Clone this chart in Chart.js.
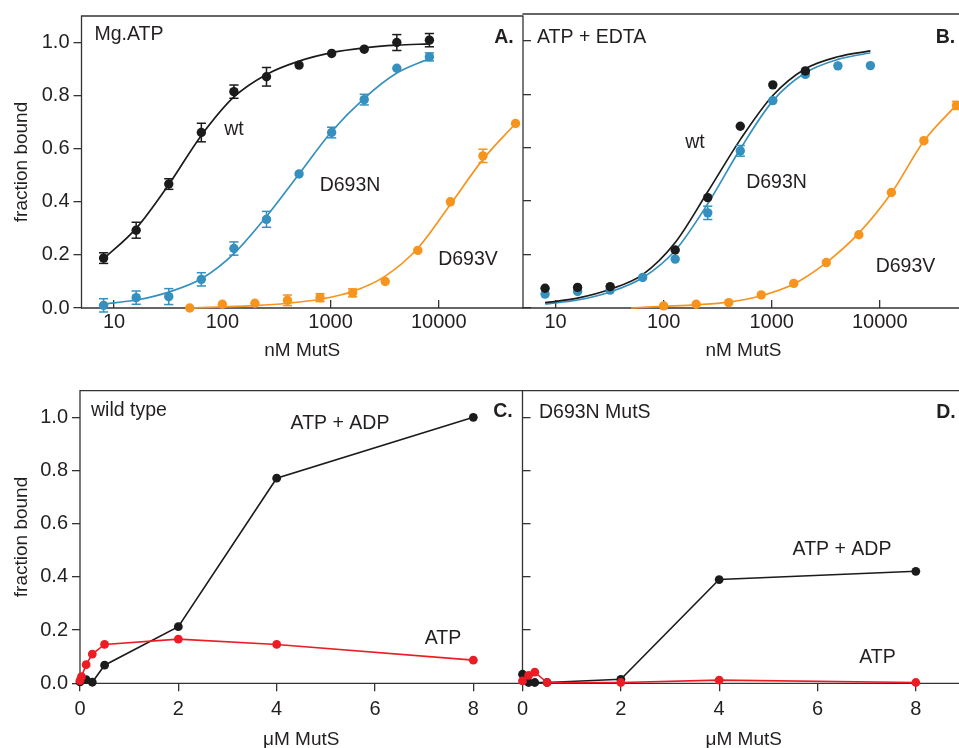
<!DOCTYPE html>
<html><head><meta charset="utf-8">
<script src="https://cdn.jsdelivr.net/npm/chart.js@4.4.1/dist/chart.umd.min.js"></script>
<style>
html,body{margin:0;padding:0;width:959px;height:748px;overflow:hidden;background:#fff;}
canvas{position:absolute;}
</style></head><body>
<canvas id="cA" width="540" height="365" style="left:0;top:0"></canvas>
<canvas id="cB" width="530" height="365" style="left:440px;top:0"></canvas>
<canvas id="cC" width="540" height="390" style="left:0;top:370px"></canvas>
<canvas id="cD" width="530" height="390" style="left:440px;top:370px"></canvas>
<script>
// ---------- tick labels ----------
const logTicks = [10, 100, 1000, 10000];
const fracTicks = [0, 0.2, 0.4, 0.6, 0.8, 1.0];
const umTicks = [0, 2, 4, 6, 8];

// ---------- Panel A: Mg.ATP (nM MutS) ----------
const aX = [8, 16, 32, 64, 128, 256, 512, 1024, 2048, 4096, 8192];
const aWt = [0.188, 0.293, 0.467, 0.661, 0.815, 0.871, 0.915, 0.959, 0.975, 1.0, 1.009];
const aWtErr = [0.02, 0.03, 0.02, 0.035, 0.025, 0.035, 0, 0, 0, 0.03, 0.025];
const aWtFit = [0.185, 0.30, 0.465, 0.65, 0.795, 0.88, 0.93, 0.962, 0.98, 0.99, 0.995];
const aN = [0.01, 0.039, 0.043, 0.108, 0.224, 0.334, 0.505, 0.661, 0.785, 0.903, 0.946];
const aNErr = [0.025, 0.025, 0.03, 0.025, 0.025, 0.03, 0, 0.02, 0.02, 0, 0.015];
const aNFit = [0.015, 0.03, 0.06, 0.11, 0.205, 0.345, 0.505, 0.665, 0.79, 0.885, 0.94];
const aVX = [50, 100, 200, 400, 800, 1600, 3200, 6400, 12800, 25600, 51200];
const aV = [0.0, 0.014, 0.018, 0.029, 0.039, 0.057, 0.10, 0.217, 0.40, 0.573, 0.695];
const aVErr = [0, 0, 0, 0.02, 0.015, 0.015, 0, 0, 0, 0.025, 0];
const aVFit = [0.0, 0.004, 0.009, 0.018, 0.033, 0.062, 0.12, 0.225, 0.39, 0.56, 0.695];

// ---------- Panel B: ATP + EDTA ----------
const bX = [8, 16, 32, 64, 128, 256, 512, 1024, 2048, 4096, 8192];
const bWtX = [8, 16, 32, 128, 256, 512, 1024, 2048];
const bWt = [0.074, 0.077, 0.08, 0.217, 0.413, 0.68, 0.835, 0.887];
const bWtFit = [0.02, 0.037, 0.07, 0.125, 0.245, 0.435, 0.63, 0.795, 0.895, 0.94, 0.962];
const bN = [0.052, 0.062, 0.067, 0.114, 0.183, 0.356, 0.588, 0.776, 0.874, 0.906, 0.907];
const bNErr = [0, 0, 0, 0, 0, 0.025, 0.02, 0, 0, 0, 0];
const bNFit = [0.015, 0.03, 0.06, 0.113, 0.215, 0.39, 0.595, 0.775, 0.88, 0.93, 0.955];
const bVX = [100, 200, 400, 800, 1600, 3200, 6400, 12800, 25600, 51200];
const bV = [0.008, 0.014, 0.02, 0.049, 0.092, 0.17, 0.274, 0.432, 0.626, 0.758];
const bVErr = [0, 0, 0, 0, 0, 0, 0, 0, 0, 0.015];
const bVFitX = [50, 100, 200, 400, 800, 1600, 3200, 6400, 12800, 25600, 51200];
const bVFit = [0.0, 0.006, 0.012, 0.022, 0.046, 0.09, 0.17, 0.28, 0.43, 0.625, 0.76];

// ---------- Panel C: wild type (uM MutS) ----------
const cAdpX = [0, 0.125, 0.25, 0.5, 2, 4, 8];
const cAdp = [0.005, 0.014, 0.004, 0.068, 0.213, 0.771, 1.0];
const cAtpX = [0, 0.03, 0.125, 0.25, 0.5, 2, 4, 8];
const cAtp = [0.01, 0.025, 0.07, 0.11, 0.146, 0.166, 0.146, 0.087];

// ---------- Panel D: D693N MutS ----------
const dAdpX = [0, 0.125, 0.25, 0.5, 2, 4, 8];
const dAdp = [0.034, 0.003, 0.003, 0.003, 0.015, 0.39, 0.421];
const dAtpX = [0, 0.125, 0.25, 0.5, 2, 4, 8];
const dAtp = [0.009, 0.03, 0.042, 0.003, 0.003, 0.012, 0.003];

// ---------- styles ----------
const FONT = "'Liberation Sans', Arial, Helvetica, sans-serif";
const INK = '#231f20';
const AXC = '#333333';
const BLACK = '#1b1b1b', BLUE = '#3590bf', ORANGE = '#f7941d', RED = '#ec1c24';

function pts(xs, ys) { return xs.map((x, i) => ({x: x, y: ys[i]})); }
function errPts(xs, ys, es) {
  const out = [];
  xs.forEach((x, i) => { if (es[i] > 0) { out.push({x: x, y: ys[i] - es[i]}, {x: x, y: ys[i] + es[i]}, {x: x, y: null}); } });
  return out;
}
function dots(xs, ys, color, r) {
  return {data: pts(xs, ys), showLine: false, pointRadius: r, pointBackgroundColor: color,
    pointBorderColor: color, pointBorderWidth: 0, clip: false};
}
function errs(xs, ys, es, color) {
  return {data: errPts(xs, ys, es), showLine: true, spanGaps: false, borderColor: color, borderWidth: 1.5,
    pointStyle: 'line', pointRadius: 4.6, pointBorderColor: color, pointBorderWidth: 1.5, clip: false};
}
function fit(xs, ys, color) {
  return {data: pts(xs, ys), showLine: true, borderColor: color, borderWidth: 1.7, pointRadius: 0,
    cubicInterpolationMode: 'monotone', clip: false};
}
function connected(xs, ys, color) {
  return {data: pts(xs, ys), showLine: true, borderColor: color, borderWidth: 1.6, pointRadius: 4.4,
    pointBackgroundColor: color, pointBorderColor: color, pointBorderWidth: 0, clip: false};
}

const framePlugin = {
  id: 'frame',
  beforeDatasetsDraw(chart, args, opts) {
    const {left, right, top, bottom} = chart.chartArea;
    const ctx = chart.ctx; const s = opts.sides || 'ltrb';
    ctx.save(); ctx.strokeStyle = AXC; ctx.lineWidth = 1.3; ctx.beginPath();
    if (s.includes('l')) { ctx.moveTo(left, top); ctx.lineTo(left, bottom); }
    if (s.includes('t')) { ctx.moveTo(left - 0.6, top); ctx.lineTo(right + 0.6, top); }
    if (s.includes('r')) { ctx.moveTo(right, top); ctx.lineTo(right, bottom); }
    if (s.includes('b')) { ctx.moveTo(left - 0.6, bottom); ctx.lineTo(right + 0.6, bottom); }
    ctx.stroke(); ctx.restore();
  }
};
const annotPlugin = {
  id: 'annot',
  afterDraw(chart, args, opts) {
    const ctx = chart.ctx;
    (opts.items || []).forEach(it => {
      ctx.save();
      ctx.font = (it.bold ? 'bold ' : '') + (it.size || 19.5) + 'px ' + FONT;
      ctx.fillStyle = INK; ctx.textAlign = it.align || 'center'; ctx.textBaseline = 'middle';
      ctx.fillText(it.t, it.x, it.y); ctx.restore();
    });
  }
};

function gridOpts(len) {
  return {display: true, drawOnChartArea: false, drawTicks: true, tickLength: len,
    color: AXC, tickColor: AXC, lineWidth: 1.3, tickWidth: 1.3};
}
function xLog(height, tickLen, pad, titleBottom) {
  return {type: 'logarithmic', position: 'bottom', min: 5, max: 60000,
    afterBuildTicks: s => { s.ticks = logTicks.map(v => ({value: v})); },
    ticks: {callback: v => String(v), font: {family: FONT, size: 20}, color: INK, padding: pad,
      maxRotation: 0, autoSkip: false},
    grid: gridOpts(tickLen), border: {display: false},
    title: {display: true, text: 'nM MutS', font: {family: FONT, size: 19}, color: INK,
      padding: {top: 0, bottom: titleBottom}},
    afterFit: s => { s.height = height; }};
}
function xLin(height, tickLen, pad, titleBottom) {
  return {type: 'linear', position: 'bottom', min: 0, max: 9,
    afterBuildTicks: s => { s.ticks = umTicks.map(v => ({value: v})); },
    ticks: {callback: v => String(v), font: {family: FONT, size: 20}, color: INK, padding: pad,
      maxRotation: 0, autoSkip: false},
    grid: gridOpts(tickLen), border: {display: false},
    title: {display: true, text: '\u03bcM MutS', font: {family: FONT, size: 19}, color: INK,
      padding: {top: 0, bottom: titleBottom}},
    afterFit: s => { s.height = height; }};
}
function yFrac(width, showLabels, tickLen) {
  return {type: 'linear', position: 'left', min: 0, max: 1.1,
    afterBuildTicks: s => { s.ticks = fracTicks.map(v => ({value: v})); },
    ticks: {display: showLabels, callback: v => v.toFixed(1), font: {family: FONT, size: 20}, color: INK, padding: 4},
    grid: gridOpts(tickLen), border: {display: false},
    title: {display: showLabels, text: 'fraction bound', font: {family: FONT, size: 19}, color: INK,
      padding: {top: 10.6, bottom: 0}},
    afterFit: s => { s.width = width; }};
}
function make(id, datasets, scales, padding, sides, items) {
  new Chart(document.getElementById(id), {
    type: 'scatter',
    data: {datasets: datasets},
    options: {responsive: false, animation: false, devicePixelRatio: 1,
      layout: {padding: padding},
      scales: scales,
      plugins: {legend: {display: false}, tooltip: {enabled: false}, frame: {sides: sides}, annot: {items: items}}},
    plugins: [framePlugin, annotPlugin]
  });
}

// Panel A
make('cA', [
  dots(aX, aWt, BLACK, 4.7), dots(aX, aN, BLUE, 4.7), dots(aVX, aV, ORANGE, 4.7),
  errs(aX, aWt, aWtErr, BLACK), errs(aX, aN, aNErr, BLUE), errs(aVX, aV, aVErr, ORANGE),
  fit(aX, aWtFit, BLACK), fit(aX, aNFit, BLUE), fit(aVX, aVFit, ORANGE)
], {x: xLog(57, -8, 10.6, 2.6), y: yFrac(81.5, true, 8)},
  {left: 0, top: 14, right: 17, bottom: 0}, 'ltrb', [
  {t: 'Mg.ATP', x: 94.5, y: 35, align: 'left'},
  {t: 'A.', x: 504, y: 38, bold: true},
  {t: 'wt', x: 234, y: 130},
  {t: 'D693N', x: 350, y: 186},
  {t: 'D693V', x: 468, y: 260}
]);

// Panel B
make('cB', [
  dots(bWtX, bWt, BLACK, 4.7), dots(bX, bN, BLUE, 4.7), dots(bVX, bV, ORANGE, 4.7),
  errs(bX, bN, bNErr, BLUE), errs(bVX, bV, bVErr, ORANGE),
  fit(bX, bWtFit, BLACK), fit(bX, bNFit, BLUE), fit(bVFitX, bVFit, ORANGE)
], {x: xLog(57, -8, 10.6, 2.6), y: yFrac(83, false, -8)},
  {left: 0, top: 14, right: 6, bottom: 0}, 'trb', [
  {t: 'ATP + EDTA', x: 97, y: 38, align: 'left'},
  {t: 'B.', x: 505.5, y: 38, bold: true},
  {t: 'wt', x: 255, y: 143},
  {t: 'D693N', x: 336.5, y: 183},
  {t: 'D693V', x: 465.5, y: 267}
]);

// Panel C
make('cC', [
  connected(cAtpX, cAtp, RED), connected(cAdpX, cAdp, BLACK)
], {x: xLin(76.7, 8, 6, 8.6), y: yFrac(80, true, 8)},
  {left: 0, top: 20.7, right: 17.5, bottom: 0}, 'ltrb', [
  {t: 'wild type', x: 91, y: 40.5, align: 'left'},
  {t: 'C.', x: 503, y: 42, bold: true},
  {t: 'ATP + ADP', x: 340, y: 54},
  {t: 'ATP', x: 443, y: 269}
]);

// Panel D
make('cD', [
  connected(dAtpX, dAtp, RED), connected(dAdpX, dAdp, BLACK)
], {x: xLin(76.7, 8, 6, 8.6), y: yFrac(82.5, false, -8)},
  {left: 0, top: 20.7, right: 5, bottom: 0}, 'trb', [
  {t: 'D693N MutS', x: 99, y: 42.7, align: 'left'},
  {t: 'D.', x: 506, y: 43, bold: true},
  {t: 'ATP + ADP', x: 402, y: 180},
  {t: 'ATP', x: 437.5, y: 288}
]);
</script>
</body></html>
